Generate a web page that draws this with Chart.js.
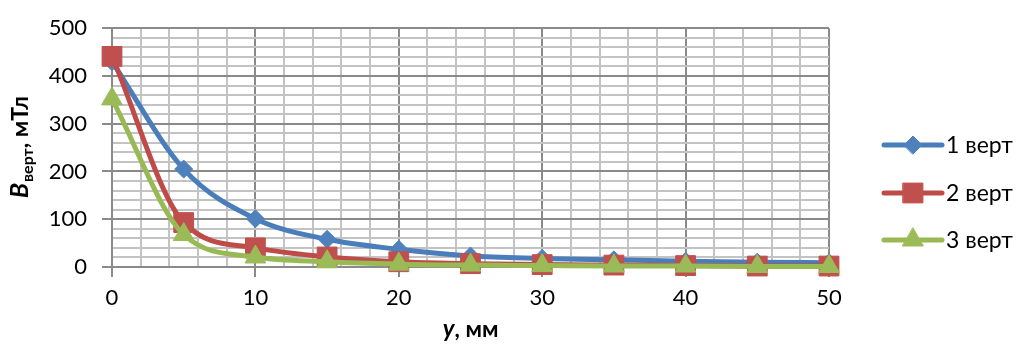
<!DOCTYPE html>
<html>
<head>
<meta charset="utf-8">
<script src="https://cdn.jsdelivr.net/npm/chart.js@4/dist/chart.umd.min.js"></script>
<style>
  html, body { margin: 0; padding: 0; background: #ffffff; }
  #wrap { width: 1019px; height: 347px; position: relative; }
</style>
</head>
<body>
<div id="wrap"><canvas id="c" width="1019" height="347"></canvas></div>
<script>
// Distance from the magnet, mm
const positions = [0, 5, 10, 15, 20, 25, 30, 35, 40, 45, 50];

// Vertical induction component B, mT, for three vertical profiles
const vert1 = [430, 205, 101, 58, 37, 23, 18, 15, 12, 10, 9];
const vert2 = [441, 93, 40, 21, 11, 7, 5, 4, 3, 2, 2];
const vert3 = [352, 68, 21, 11, 6, 4, 3, 2, 2, 1, 1];

const seriesNames = ['1 верт', '2 верт', '3 верт'];

// Axis ranges and tick spacing
const xRange = [0, 50];
const xMajorStep = 10;
const xMinorStep = 2;
const yRange = [0, 500];
const yMajorStep = 100;
const yMinorStep = 20;

const FONT = 'Lato, "Open Sans", "Liberation Sans", sans-serif';
const MAJOR_GRID = '#8a8a8a';
const MINOR_GRID = '#c3c3c3';

const toPoints = vals => positions.map((x, i) => ({ x: x, y: vals[i] }));
const isMajor = (v, step) => Math.abs(v / step - Math.round(v / step)) < 1e-6;

const styles = [
  { line: '#4a7ebb', fill: '#4f81bd', pointStyle: 'rectRot', radius: 9, order: 3 },
  { line: '#be4b48', fill: '#c0504d', pointStyle: 'rect', radius: 14, order: 2 },
  { line: '#98b954', fill: '#9bbb59', pointStyle: 'triangle', radius: 12, order: 1 }
];

const seriesValues = [vert1, vert2, vert3];

const datasets = seriesValues.map((vals, i) => ({
  label: seriesNames[i],
  data: toPoints(vals),
  borderColor: styles[i].line,
  backgroundColor: styles[i].fill,
  borderWidth: 5,
  pointStyle: styles[i].pointStyle,
  pointRadius: styles[i].radius,
  pointHoverRadius: styles[i].radius,
  pointBackgroundColor: styles[i].fill,
  pointBorderColor: styles[i].fill,
  pointBorderWidth: 1,
  cubicInterpolationMode: 'monotone',
  order: styles[i].order,
  clip: false
}));

// Axis titles with italic symbols and a subscript, plus the line-and-marker legend
const decorations = {
  id: 'decorations',
  afterDraw(chart) {
    const ctx = chart.ctx;
    const area = chart.chartArea;
    ctx.save();
    ctx.fillStyle = '#000000';
    ctx.textBaseline = 'alphabetic';

    // Vertical axis title: B with subscript "верт", then ", мТл"
    const fB = 'italic bold 25px ' + FONT;
    const fSub = 'bold 16px ' + FONT;
    const fRest = 'bold 23px ' + FONT;
    ctx.font = fB; const wB = ctx.measureText('B').width;
    ctx.font = fSub; const wSub = ctx.measureText('верт').width;
    ctx.font = fRest; const wRest = ctx.measureText(', мТл').width;
    const total = wB + wSub + wRest;
    ctx.save();
    ctx.translate(28, (area.top + area.bottom) / 2);
    ctx.rotate(-Math.PI / 2);
    let px = -total / 2;
    ctx.textAlign = 'left';
    ctx.font = fB; ctx.fillText('B', px, 0); px += wB + 1;
    ctx.font = fSub; ctx.fillText('верт', px, 5); px += wSub;
    ctx.font = fRest; ctx.fillText(', мТл', px, 0);
    ctx.restore();

    // Horizontal axis title: y, мм
    const fy = 'italic bold 24px ' + FONT;
    ctx.font = fy; const wy = ctx.measureText('y').width;
    ctx.font = fRest; const wmm = ctx.measureText(', мм').width;
    let sx = (area.left + area.right) / 2 - (wy + wmm) / 2;
    const by = 337;
    ctx.textAlign = 'left';
    ctx.font = fy; ctx.fillText('y', sx, by); sx += wy;
    ctx.font = fRest; ctx.fillText(', мм', sx, by);

    // Legend
    const lx0 = 884, lx1 = 942, tx = 946;
    const rowY = [145, 193, 240];
    chart.data.datasets.forEach((ds, i) => {
      const y = rowY[i];
      ctx.beginPath();
      ctx.lineWidth = 5;
      ctx.lineCap = 'round';
      ctx.strokeStyle = ds.borderColor;
      ctx.moveTo(lx0, y);
      ctx.lineTo(lx1, y);
      ctx.stroke();
      ctx.fillStyle = ds.pointBackgroundColor;
      ctx.strokeStyle = ds.pointBorderColor;
      ctx.lineWidth = 1;
      Chart.helpers.drawPoint(ctx, {
        pointStyle: ds.pointStyle,
        radius: ds.pointRadius,
        borderWidth: 1,
        rotation: 0
      }, (lx0 + lx1) / 2, y);
      ctx.fillStyle = '#000000';
      ctx.font = '23px ' + FONT;
      ctx.textAlign = 'left';
      ctx.textBaseline = 'middle';
      ctx.fillText(ds.label, tx, y + 1);
    });
    ctx.restore();
  }
};

new Chart(document.getElementById('c'), {
  type: 'line',
  data: { datasets: datasets },
  options: {
    responsive: false,
    devicePixelRatio: 1,
    animation: false,
    events: [],
    layout: { padding: { left: 0, top: 22, right: 190, bottom: 0 } },
    plugins: {
      legend: { display: false },
      tooltip: { enabled: false },
      title: { display: false }
    },
    scales: {
      x: {
        type: 'linear',
        min: xRange[0],
        max: xRange[1],
        afterFit(scale) { scale.height = 80; },
        ticks: {
          stepSize: xMinorStep,
          autoSkip: false,
          maxRotation: 0,
          padding: 8,
          color: '#000000',
          font: { family: FONT, size: 22 },
          callback: v => isMajor(v, xMajorStep) ? String(v) : ''
        },
        grid: {
          lineWidth: 2,
          tickLength: 10,
          tickWidth: 2,
          color: c => (c.tick && isMajor(c.tick.value, xMajorStep)) ? MAJOR_GRID : MINOR_GRID,
          tickColor: c => (c.tick && isMajor(c.tick.value, xMajorStep)) ? MAJOR_GRID : 'rgba(0,0,0,0)'
        },
        border: { color: MAJOR_GRID, width: 2 }
      },
      y: {
        type: 'linear',
        min: yRange[0],
        max: yRange[1],
        afterFit(scale) { scale.width = 112; },
        ticks: {
          stepSize: yMinorStep,
          autoSkip: false,
          padding: 15,
          color: '#000000',
          font: { family: FONT, size: 22 },
          callback: v => isMajor(v, yMajorStep) ? String(v) : ''
        },
        grid: {
          lineWidth: 2,
          tickLength: 10,
          tickWidth: 2,
          color: c => (c.tick && isMajor(c.tick.value, yMajorStep)) ? MAJOR_GRID : MINOR_GRID,
          tickColor: c => (c.tick && isMajor(c.tick.value, yMajorStep)) ? MAJOR_GRID : 'rgba(0,0,0,0)'
        },
        border: { color: MAJOR_GRID, width: 2 }
      }
    }
  },
  plugins: [decorations]
});
</script>
</body>
</html>
